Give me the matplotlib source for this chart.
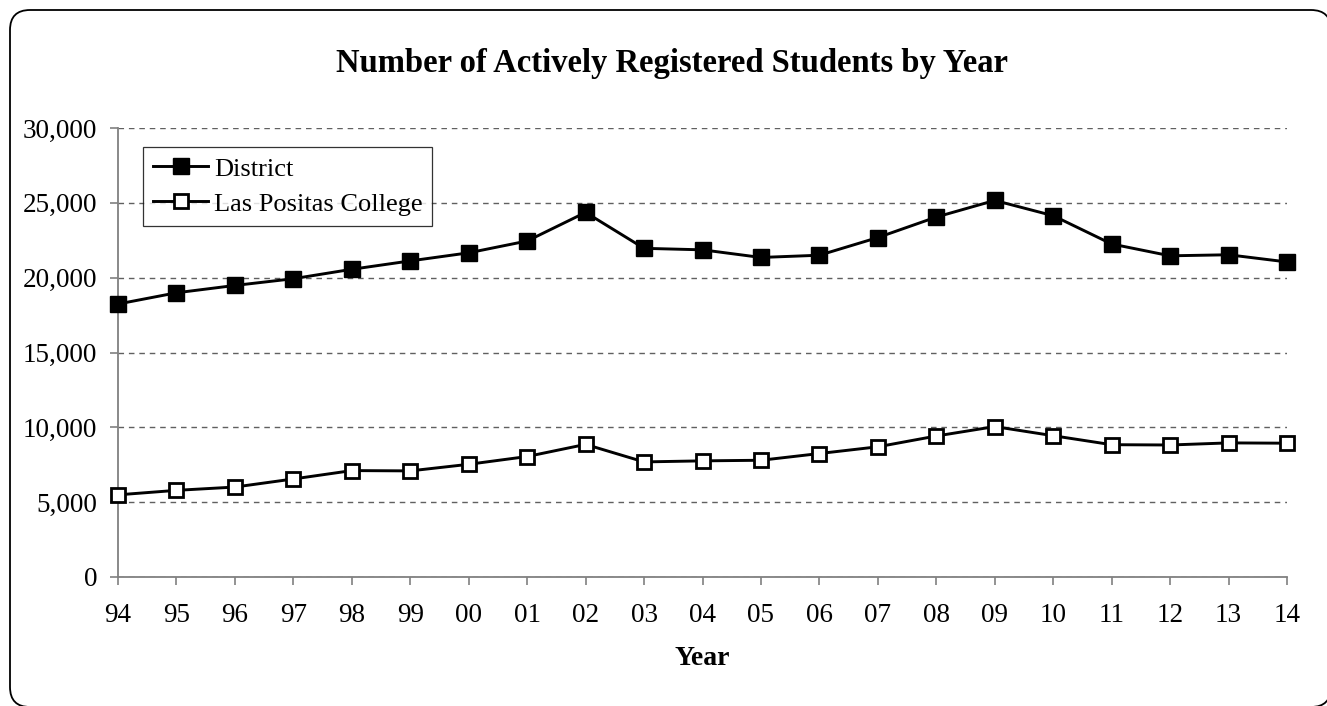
import matplotlib.pyplot as plt
from matplotlib.patches import FancyBboxPatch
from matplotlib.lines import Line2D
from matplotlib.transforms import IdentityTransform
from matplotlib.ticker import FuncFormatter

years = ['94', '95', '96', '97', '98', '99', '00', '01', '02', '03', '04',
         '05', '06', '07', '08', '09', '10', '11', '12', '13', '14']
district = [18240, 18990, 19480, 19930, 20560, 21120, 21660, 22450, 24360, 21960, 21860,
            21350, 21500, 22680, 24050, 25160, 24140, 22250, 21460, 21530, 21050]
las_positas = [5490, 5790, 6010, 6550, 7110, 7090, 7530, 8050, 8860, 7690, 7760,
               7800, 8250, 8700, 9420, 10050, 9440, 8840, 8820, 8960, 8940]

plt.rcParams['font.family'] = ['Liberation Serif', 'DejaVu Serif']

W, H = 1327, 706
fig = plt.figure(figsize=(W / 100, H / 100), dpi=100)
ax = fig.add_axes([118 / W, 1 - 577 / H, (1287 - 118) / W, (577 - 128) / H])

x = list(range(len(years)))
ax.plot(x, district, color='black', lw=2.1, marker='s', markersize=11,
        markerfacecolor='black', markeredgecolor='black', label='District',
        clip_on=False, zorder=3)
ax.plot(x, las_positas, color='black', lw=2.1, marker='s', markersize=9.5,
        markerfacecolor='white', markeredgecolor='black', markeredgewidth=2,
        label='Las Positas College', clip_on=False, zorder=3)

ax.set_xlim(0, len(years) - 1)
ax.set_ylim(0, 30000)
ax.set_xticks(x)
ax.set_xticklabels(years)
ax.set_yticks(range(0, 30001, 5000))
ax.yaxis.set_major_formatter(FuncFormatter(lambda v, p: '{:,}'.format(int(v))))
ax.tick_params(labelsize=19.5, color='#808080', length=5.5, width=1.2)
ax.tick_params(axis='x', pad=13)
ax.tick_params(axis='y', pad=9.5)

for s in ['top', 'right']:
    ax.spines[s].set_visible(False)
for s in ['left', 'bottom']:
    ax.spines[s].set_color('#808080')
    ax.spines[s].set_linewidth(1.3)

ax.yaxis.grid(True, linestyle=(0, (4, 3.5)), color='#606060', lw=1)
ax.set_axisbelow(True)

# title and x label placed by baseline
fig.text(0.5 * (338 + 1005) / W, 1 - 72 / H, 'Number of Actively Registered Students by Year',
         ha='center', va='baseline', fontsize=23.5, fontweight='bold')
fig.text(0.5 * (118 + 1287) / W, 1 - 665 / H, 'Year',
         ha='center', va='baseline', fontsize=20, fontweight='bold')

leg = ax.legend(loc='upper left', bbox_to_anchor=(25 / 1169, (577 - 147) / 449), fontsize=19,
                frameon=True, fancybox=False, edgecolor='black', borderpad=0.38,
                handlelength=2.1, handletextpad=0.2, labelspacing=0.44, borderaxespad=0)
leg.get_frame().set_linewidth(0.9)

# rounded outer border, runs off the right and bottom edges;
# drawn as a plain line so the clipped part leaves no edge at the border
box = FancyBboxPatch((10, H - 707), 1321, 697, boxstyle='round,pad=0,rounding_size=20')
poly = box.get_path().to_polygons(closed_only=True)[0]
fig.lines.append(Line2D(poly[:, 0], poly[:, 1], transform=IdentityTransform(),
                        color='black', lw=1.3, figure=fig))

fig.savefig('out.png', dpi=100)
